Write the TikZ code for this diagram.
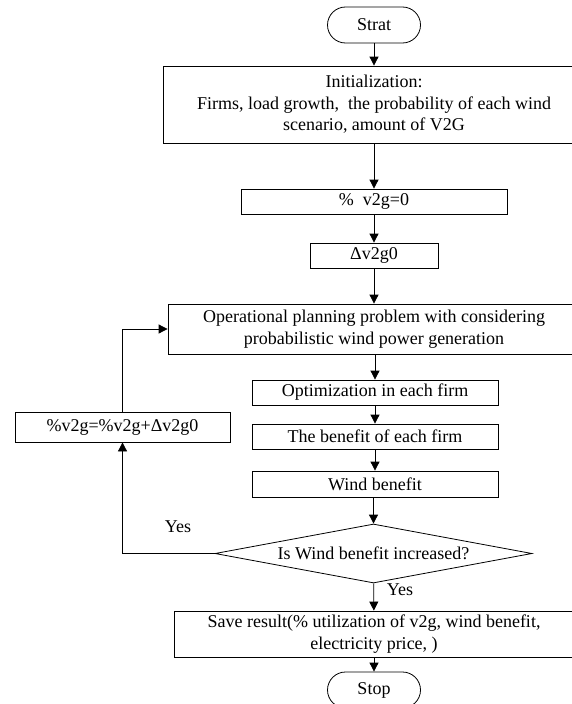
\documentclass[tikz,border=0pt]{standalone}
\usepackage{fontspec}
\setmainfont{Liberation Serif}
\usepackage{tikz}
\usetikzlibrary{
    arrows.meta,
    shapes.geometric
}
\tikzset{
    every node/.style={font=\fontsize{18}{21.5}\selectfont},
    procbox/.style={draw, line width=0.8pt, inner sep=0pt, align=center},
    termbox/.style={draw, line width=0.8pt, rounded corners=18pt, inner sep=0pt,
        minimum width=93pt, minimum height=36pt},
    decbox/.style={draw, line width=0.8pt, diamond, aspect=5.4, inner sep=0pt,
        minimum width=317pt, minimum height=59pt},
    flowarrow/.style={line width=0.8pt, -{Triangle[length=9pt,width=9pt]}},
}

\begin{document}
\begin{tikzpicture}[x=1pt,y=-1pt]
    \useasboundingbox (0,0) rectangle (571,704);
    % main column
    \node[termbox] (strat) at (374,25) {Strat};
    \node[procbox, minimum width=422pt, minimum height=77pt] (init) at (374,104.5)
        {Initialization:\\Firms, load growth,\ \ the probability of each wind\\scenario, amount of V2G};
    \node[procbox, minimum width=266pt, minimum height=25pt] (zero) at (374,201.5) {\%\ \ v2g=0};
    \node[procbox, minimum width=128pt, minimum height=25pt] (delta) at (374,255.5) {Δv2g0};
    \node[procbox, minimum width=412pt, minimum height=50pt] (oper) at (374,329)
        {Operational planning problem with considering\\probabilistic wind power generation};
    \node[procbox, minimum width=246pt, minimum height=25pt] (optim) at (375,392.5) {Optimization in each firm};
    \node[procbox, minimum width=246pt, minimum height=25pt] (benef) at (375,436.5) {The benefit of each firm};
    \node[procbox, minimum width=246pt, minimum height=26pt] (wind) at (375,484) {Wind benefit};
    \node[decbox] (dec) at (373.5,553.5) {Is Wind benefit increased?};
    \node[procbox, minimum width=400pt, minimum height=46pt] (save) at (374,634)
        {Save result(\% utilization of v2g, wind benefit,\\electricity price, )};
    \node[termbox] (stop) at (374,690) {Stop};
    % loop
    \node[procbox, minimum width=215pt, minimum height=30pt] (update) at (122.5,427)
        {\%v2g=\%v2g+Δv2g0};
    \node (yesa) at (178,527) {Yes};
    \node (yesb) at (400,590) {Yes};

    \draw[flowarrow] (strat) -- (init);
    \draw[flowarrow] (init) -- (zero);
    \draw[flowarrow] (zero) -- (delta);
    \draw[flowarrow] (delta) -- (oper);
    \draw[flowarrow] (oper.south -| optim) -- (optim);
    \draw[flowarrow] (optim) -- (benef);
    \draw[flowarrow] (benef) -- (wind);
    \draw[flowarrow] (wind.south -| dec) -- (dec);
    \draw[flowarrow] (dec) -- (save);
    \draw[flowarrow] (save) -- (stop);
    \draw[flowarrow] (dec.west) -| (update.south);
    \draw[flowarrow] (update.north) |- (oper.west);
\end{tikzpicture}
\end{document}
